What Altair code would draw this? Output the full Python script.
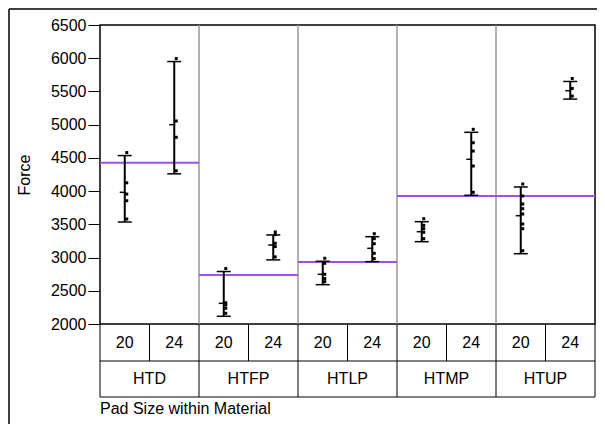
import altair as alt
import pandas as pd

# ---------------- data ----------------
materials = ["HTD", "HTFP", "HTLP", "HTMP", "HTUP"]
pad_sizes = ["20", "24"]

htd_20 = [4535, 4080, 3910, 3810, 3535]
htd_24 = [5950, 5010, 4765, 4260]
htfp_20 = [2790, 2275, 2241, 2191, 2116]
htfp_24 = [3340, 3300, 3170, 3120, 2965]
htlp_20 = [2944, 2868, 2703, 2640, 2592]
htlp_24 = [3314, 3239, 3163, 3019, 2938]
htmp_20 = [3540, 3440, 3390, 3335, 3239]
htmp_24 = [4885, 4683, 4558, 4333, 3937]
htup_20 = [4062, 3881, 3761, 3690, 3610, 3460, 3389, 3058]
htup_24 = [5650, 5500, 5385]

cell_values = [htd_20, htd_24, htfp_20, htfp_24, htlp_20, htlp_24,
               htmp_20, htmp_24, htup_20, htup_24]
cell_means = [3982, 5000, 2311, 3189, 2748, 3139, 3389, 4479, 3630, 5511]
group_means = [4428, 2737, 2933, 3926, 3926]
y_ticks = [2000, 2500, 3000, 3500, 4000, 4500, 5000, 5500, 6000, 6500]

# ---------------- tables ----------------
pts, cells = [], []
for i, vals in enumerate(cell_values):
    m = materials[i // 2]
    p = pad_sizes[i % 2]
    for v in vals:
        pts.append({"pos": i + 0.5, "material": m, "pad": p, "force": v})
    cells.append({"pos": i + 0.5, "material": m, "pad": p, "lo": min(vals),
                  "hi": max(vals), "mean": cell_means[i]})
df_pts = pd.DataFrame(pts)
df_cells = pd.DataFrame(cells)
df_groups = pd.DataFrame({"material": materials,
                          "start": [2 * i for i in range(5)],
                          "end": [2 * i + 2 for i in range(5)],
                          "center": [2 * i + 1 for i in range(5)],
                          "mean": group_means})
df_sep = pd.DataFrame({"b": [2, 4, 6, 8]})
df_b1 = pd.DataFrame({"b": list(range(11))})
df_b2 = pd.DataFrame({"b": [0, 2, 4, 6, 8, 10]})
df_span = pd.DataFrame({"a": [0], "z": [10]})

W, H = 495, 299
FONT = "Liberation Sans"
XS = alt.Scale(domain=[0, 10], nice=False, zero=False)
YS = alt.Scale(domain=[2000, 6500], nice=False, zero=False)


def X(f):
    return alt.X(f, type="quantitative", scale=XS, axis=None)


def Y(f):
    return alt.Y(f, type="quantitative", scale=YS, title="Force",
                 axis=alt.Axis(values=y_ticks, format="d", grid=False,
                               domain=False, tickColor="black", tickSize=12,
                               tickWidth=1, labelPadding=2, labelFont=FONT,
                               labelFontSize=16, labelColor="black",
                               titleFont=FONT, titleFontSize=16,
                               titleFontWeight="normal", titleColor="black",
                               titlePadding=18))


sep = alt.Chart(df_sep).mark_rule(color="#999999", strokeWidth=1.5).encode(
    x=X("b"), y=alt.value(0), y2=alt.value(H))

grp = alt.Chart(df_groups).mark_rule(color="#a34ee8", strokeWidth=2).encode(
    x=X("start"), x2="end", y=Y("mean"))

bar = alt.Chart(df_cells).mark_rule(color="black", strokeWidth=2).encode(
    x=X("pos"), y=Y("lo"), y2="hi")
cap_hi = alt.Chart(df_cells).mark_rule(color="black", strokeWidth=1.5,
                                       xOffset=-7, x2Offset=7).encode(
    x=X("pos"), x2="pos", y=Y("hi"))
cap_lo = alt.Chart(df_cells).mark_rule(color="black", strokeWidth=1.5,
                                       xOffset=-7, x2Offset=7).encode(
    x=X("pos"), x2="pos", y=Y("lo"))
mean_tick = alt.Chart(df_cells).mark_rule(color="black", strokeWidth=1.5,
                                          xOffset=-5, x2Offset=1).encode(
    x=X("pos"), x2="pos", y=Y("mean"))

dots = alt.Chart(df_pts).mark_point(shape="square", filled=True, size=9,
                                    color="black", opacity=1,
                                    xOffset=2, yOffset=-3).encode(
    x=X("pos"), y=Y("force"))

# header table under the plot
R0, R1, R2 = H, H + 37, H + 73
h_lines = alt.Chart(df_span).mark_rule(color="black", strokeWidth=1).encode(
    x=X("a"), x2="z", y=alt.value(R1))
h_lines2 = alt.Chart(df_span).mark_rule(color="black", strokeWidth=1).encode(
    x=X("a"), x2="z", y=alt.value(R2))
v1 = alt.Chart(df_b1).mark_rule(color="black", strokeWidth=1).encode(
    x=X("b"), y=alt.value(R0), y2=alt.value(R1))
v2 = alt.Chart(df_b2).mark_rule(color="black", strokeWidth=1).encode(
    x=X("b"), y=alt.value(R1), y2=alt.value(R2))
t1 = alt.Chart(df_cells).mark_text(font=FONT, fontSize=16, color="black",
                                   baseline="middle", align="center").encode(
    x=X("pos"), y=alt.value((R0 + R1) / 2), text="pad")
t2 = alt.Chart(df_groups).mark_text(font=FONT, fontSize=16, color="black",
                                    baseline="middle", align="center").encode(
    x=X("center"), y=alt.value((R1 + R2) / 2), text="material")
xtitle = alt.Chart(pd.DataFrame({"t": ["Pad Size within Material"]})).mark_text(
    font=FONT, fontSize=16, color="black", align="left", baseline="middle").encode(
    x=alt.value(0), y=alt.value(R2 + 12), text="t")

# outer frame (left and top edges)
outer_l = alt.Chart(df_span).mark_rule(color="black", strokeWidth=1.5).encode(
    x=alt.value(-91), y=alt.value(-16), y2=alt.value(400))
outer_t = alt.Chart(df_span).mark_rule(color="black", strokeWidth=1.5).encode(
    x=alt.value(-91), x2=alt.value(500), y=alt.value(-16))

chart = alt.layer(
    outer_l, outer_t, sep, grp, bar, cap_hi, cap_lo, mean_tick, dots,
    h_lines, h_lines2, v1, v2, t1, t2, xtitle
).properties(
    width=W, height=H,
    autosize=alt.AutoSizeParams(type="none"),
    padding={"left": 92, "top": 17, "right": 2, "bottom": 100},
).configure_view(stroke="black", strokeWidth=1.5)

chart.save("out.html", embed_options={"renderer": "svg", "actions": False})
